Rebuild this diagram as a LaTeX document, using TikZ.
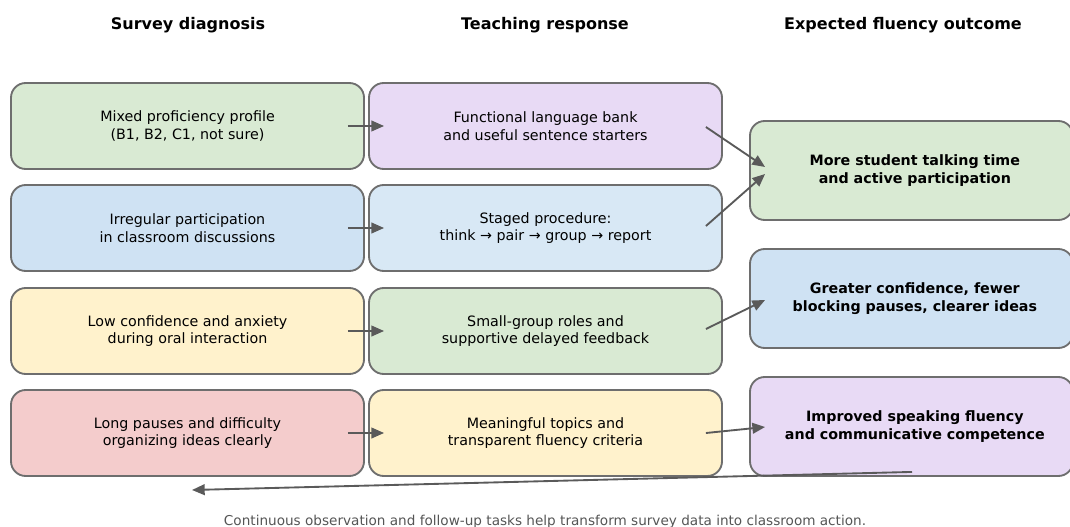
\documentclass[tikz,border=0pt]{standalone}
\usepackage{fontspec}
\setmainfont{DejaVu Sans}
\usetikzlibrary{arrows.meta,calc}
\definecolor{cgreen}{HTML}{D9EAD3}
\definecolor{cpurple}{HTML}{E8DAF5}
\definecolor{cblue}{HTML}{CFE2F3}
\definecolor{cltblue}{HTML}{D8E8F5}
\definecolor{cyellow}{HTML}{FFF2CC}
\definecolor{cpink}{HTML}{F4CCCC}
\definecolor{cborder}{HTML}{6E6E6E}
\definecolor{carrow}{HTML}{5A5A5A}
\definecolor{cnote}{HTML}{555555}
\begin{document}
\begin{tikzpicture}[x=0.75pt,y=-0.75pt,
  box/.style={draw=cborder,line width=1.4pt,rounded corners=11pt,
    minimum width=264.75pt,minimum height=64.5pt,align=center,
    font=\fontsize{10.7}{13.4}\selectfont,inner sep=0pt},
  outbox/.style={draw=cborder,line width=1.4pt,rounded corners=11pt,
    minimum width=242.25pt,minimum height=74.25pt,align=center,
    font=\fontsize{10.7}{13}\selectfont\bfseries,inner sep=0pt},
  head/.style={font=\fontsize{12}{14}\selectfont\bfseries},
  arr/.style={draw=carrow,line width=1.4pt,-{Triangle[length=9.5pt,width=8pt]}},
]
\useasboundingbox (0,0) rectangle (1070,527);
\begin{scope}
\clip (0,0) rectangle (1070,527);
% headers
\node[head] (h1) at (188,25) {Survey diagnosis};
\node[head] (h2) at (545,25) {Teaching response};
\node[head] (h3) at (903,25) {Expected fluency outcome};
% left column
\node[box,fill=cgreen]  (L1) at (187.5,126) {Mixed proficiency profile\\(B1, B2, C1, not sure)};
\node[box,fill=cblue]   (L2) at (187.5,228) {Irregular participation\\in classroom discussions};
\node[box,fill=cyellow] (L3) at (187.5,331) {Low confidence and anxiety\\during oral interaction};
\node[box,fill=cpink]   (L4) at (187.5,433) {Long pauses and difficulty\\organizing ideas clearly};
% middle column
\node[box,fill=cpurple] (M1) at (545.5,126) {Functional language bank\\and useful sentence starters};
\node[box,fill=cltblue] (M2) at (545.5,228) {Staged procedure:\\think → pair → group → report};
\node[box,fill=cgreen]  (M3) at (545.5,331) {Small-group roles and\\supportive delayed feedback};
\node[box,fill=cyellow] (M4) at (545.5,433) {Meaningful topics and\\transparent fluency criteria};
% right column
\node[outbox,fill=cgreen]  (R1) at (911.5,170.5) {\hspace*{5pt}More student talking time\\\hspace*{5pt}and active participation};
\node[outbox,fill=cblue]   (R2) at (911.5,298.5) {\hspace*{5pt}Greater confidence, fewer\\\hspace*{5pt}blocking pauses, clearer ideas};
\node[outbox,fill=cpurple] (R3) at (911.5,426.5) {\hspace*{5pt}Improved speaking fluency\\\hspace*{5pt}and communicative competence};
% arrows left -> middle
\foreach \i in {1,2,3,4}{
  \draw[arr,shorten <=-12.75pt,shorten >=-12pt] (L\i.east) -- (M\i.west);
}
% arrows middle -> right
\draw[arr] ($(M1.east)+(-17,1)$) -- ($(R1.west)+(16,-3.5)$);
\draw[arr] ($(M2.east)+(-17,-2)$) -- ($(R1.west)+(16,3.5)$);
\draw[arr] ($(M3.east)+(-17,-2)$) -- ($(R2.west)+(16,1.5)$);
\draw[arr] ($(M4.east)+(-17,0)$) -- ($(R3.west)+(16,0.5)$);
% feedback arrow
\coordinate (fb) at (192,490);
\draw[arr] ($(R3.south)+(0.5,-5)$) -- (fb);
% note
\node[font=\fontsize{10.2}{12}\selectfont,text=cnote] (note) at (545,521.5) {Continuous observation and follow-up tasks help transform survey data into classroom action.};
\end{scope}
\end{tikzpicture}
\end{document}
